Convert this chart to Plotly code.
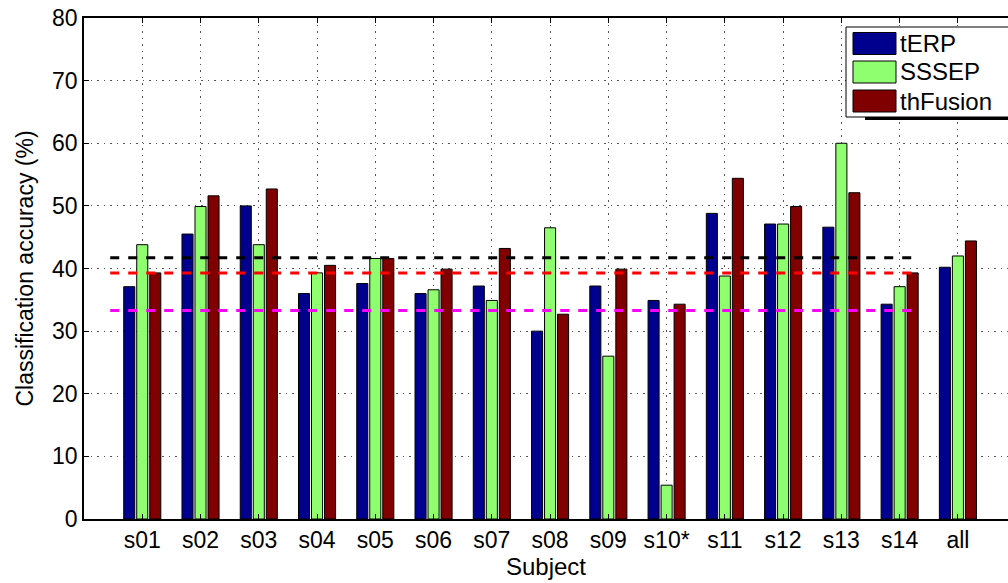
import plotly.graph_objects as go

# Per-subject classification accuracy (%)
subjects = ["s01", "s02", "s03", "s04", "s05", "s06", "s07", "s08", "s09",
            "s10*", "s11", "s12", "s13", "s14", "all"]
terp = [37.1, 45.5, 50.0, 36.0, 37.6, 36.0, 37.2, 30.0, 37.2, 34.9, 48.8, 47.1, 46.6, 34.3, 40.2]
sssep = [43.8, 49.9, 43.8, 39.3, 41.6, 36.6, 34.9, 46.5, 26.0, 5.4, 38.8, 47.1, 60.0, 37.1, 42.0]
thfusion = [39.3, 51.6, 52.7, 40.5, 41.6, 39.9, 43.2, 32.7, 39.9, 34.3, 54.4, 49.9, 52.1, 39.3, 44.4]

# Reference levels drawn across the individual subjects
ref_levels = [41.7, 39.3, 33.3]
ref_colors = ["#000000", "#FF0000", "#FF00FF"]
ref_span = [0.45, 14.27]

series_names = ["tERP", "SSSEP", "thFusion"]
series_colors = ["#00008F", "#8FFF70", "#800000"]
y_ticks = [0, 10, 20, 30, 40, 50, 60, 70, 80]

xpos = list(range(1, len(subjects) + 1))
FONT = "Liberation Sans, Arial, Helvetica, sans-serif"

W, H = 1008, 583
ML, MR, MT, MB = 84, 0, 18, 64
PW, PH = W - ML - MR, H - MT - MB

fig = go.Figure()
for name, vals, col in zip(series_names, [terp, sssep, thfusion], series_colors):
    fig.add_trace(go.Bar(
        x=xpos, y=vals, name=name,
        marker=dict(color=col, line=dict(color="#000000", width=1)),
        showlegend=False,
    ))

for lvl, col in zip(ref_levels, ref_colors):
    fig.add_trace(go.Scatter(
        x=ref_span, y=[lvl, lvl], mode="lines",
        line=dict(color=col, width=3, dash="9px,9px"),
        showlegend=False, hoverinfo="skip",
    ))


def px_x(p):
    return (p - ML) / PW


def px_y(p):
    return (H - MB - p) / PH


# Legend box with large colour patches
shapes = []
annotations = []
shapes.append(dict(type="line", xref="paper", yref="paper",
                   x0=px_x(865), x1=px_x(1012), y0=px_y(118.5), y1=px_y(118.5),
                   line=dict(color="#000000", width=3)))
shapes.append(dict(type="rect", xref="paper", yref="paper",
                   x0=px_x(846), x1=px_x(1012), y0=px_y(117), y1=px_y(27),
                   fillcolor="#FFFFFF", line=dict(color="#000000", width=1)))
sw_tops = [32.5, 61, 90]
for top, name, col in zip(sw_tops, series_names, series_colors):
    shapes.append(dict(type="rect", xref="paper", yref="paper",
                       x0=px_x(853), x1=px_x(896), y0=px_y(top + 22), y1=px_y(top),
                       fillcolor=col, line=dict(color="#000000", width=1)))
    annotations.append(dict(xref="paper", yref="paper", x=px_x(898), y=px_y(top + 11),
                            text=name, showarrow=False, xanchor="left", yanchor="middle",
                            font=dict(family=FONT, size=24, color="#000000")))

fig.update_layout(
    width=W, height=H,
    margin=dict(l=ML, r=MR, t=MT, b=MB, pad=0),
    paper_bgcolor="#FFFFFF", plot_bgcolor="#FFFFFF",
    barmode="group", bargap=0.33, bargroupgap=0.15,
    font=dict(family=FONT, size=23, color="#000000"),
    shapes=shapes, annotations=annotations,
    showlegend=False,
)
fig.update_xaxes(
    range=[0, 15.86], tickvals=xpos, ticktext=subjects,
    ticks="inside", ticklen=5, tickcolor="#000000",
    showline=True, linecolor="#000000", linewidth=1.5, mirror="ticks",
    showgrid=True, gridcolor="#555555", gridwidth=1, griddash="1.5px,5px",
    tickfont=dict(size=23), zeroline=False,
    title=dict(text="Subject", font=dict(size=24), standoff=2),
)
fig.update_yaxes(
    range=[0, 80], tickvals=y_ticks,
    ticks="inside", ticklen=5, tickcolor="#000000",
    showline=True, linecolor="#000000", linewidth=1.5,
    showgrid=True, gridcolor="#555555", gridwidth=1, griddash="1.5px,5px",
    tickfont=dict(size=23), zeroline=False,
    title=dict(text="Classification accuracy (%)", font=dict(size=23), standoff=12),
)

fig.write_html("out.html")
